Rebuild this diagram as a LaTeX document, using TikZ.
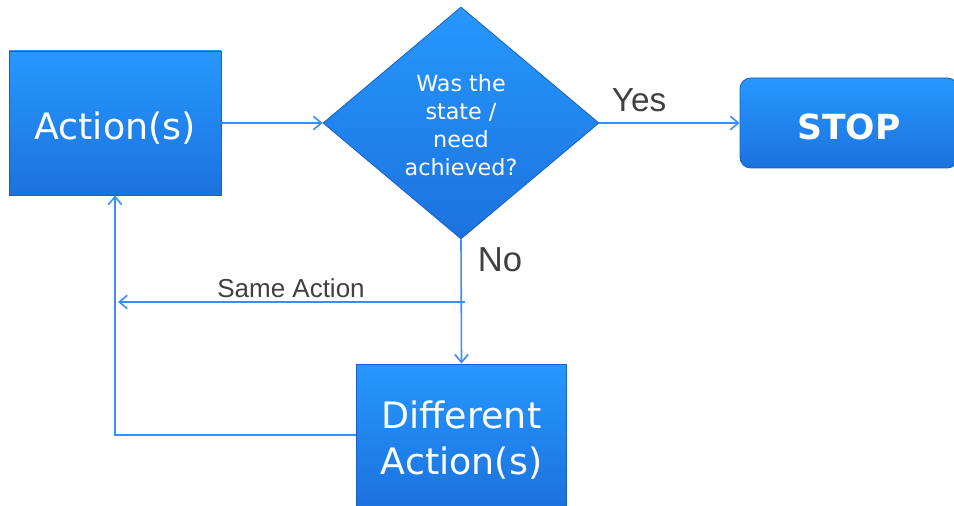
\documentclass[tikz,border=0pt]{standalone}
\usepackage{fontspec}
\setmainfont{DejaVu Sans}
\newfontfamily\lab{Liberation Sans}
\usetikzlibrary{shapes.geometric,arrows.meta}
\definecolor{boxtop}{RGB}{38,152,255}
\definecolor{boxbot}{RGB}{28,114,222}
\definecolor{boxedge}{RGB}{26,96,196}
\definecolor{lineblue}{RGB}{58,140,255}
\definecolor{labgray}{RGB}{64,64,64}
\newcommand\uprule[1]{\rule{0pt}{#1}}
\tikzset{
  bluebox/.style={top color=boxtop, bottom color=boxbot, draw=boxedge, line width=0.6pt,
    text=white, align=center, inner sep=0pt},
  arr/.style={draw=lineblue, line width=1.2pt, -{Straight Barb[length=6pt,width=10pt,line width=1.2pt]}},
  lbl/.style={text=labgray, inner sep=0pt, anchor=base},
}
\begin{document}
\begin{tikzpicture}[x=0.75pt,y=-0.75pt]
\useasboundingbox (0,0) rectangle (954,506);
% nodes
\node[bluebox, minimum width=159pt, minimum height=108pt,
  font=\fontsize{27.3}{34}\selectfont] (act) at (115,123) {\uprule{27.9pt}Action(s)};
\node[bluebox, shape=diamond, aspect=1.19, minimum width=207pt, minimum height=174pt,
  font=\fontsize{16.7}{21}\selectfont] (dec) at (461,123) {\uprule{16.5pt}Was the\\state /\\need\\achieved?};
\node[bluebox, rounded corners=8pt, minimum width=163.5pt, minimum height=67.5pt,
  font=\bfseries\fontsize{25.9}{30}\selectfont] (stop) at (849,123) {\uprule{24.5pt}STOP};
\node[bluebox, minimum width=158pt, minimum height=106.5pt,
  font=\fontsize{27.3}{34}\selectfont] (diff) at (461.5,435) {\uprule{28.2pt}Different\\Action(s)};
% labels
\node[lbl, font=\lab\fontsize{25}{30}\selectfont] (yes) at (639,112) {Yes};
\node[lbl, font=\lab\fontsize{26}{30}\selectfont] (no) at (500,272) {No};
\node[lbl, font=\lab\fontsize{19.5}{24}\selectfont] (same) at (291,297) {Same Action};
% connectors
\coordinate (sastart) at (465,302);
\coordinate (saend) at (118,302);
\draw[arr] (act.east) -- (dec.west);
\draw[arr] (dec.east) -- (stop.west);
\draw[arr] (dec.south) -- (diff.north);
\draw[arr] (sastart) -- (saend);
\draw[arr] (diff.west) -| (act.south);
\end{tikzpicture}
\end{document}
